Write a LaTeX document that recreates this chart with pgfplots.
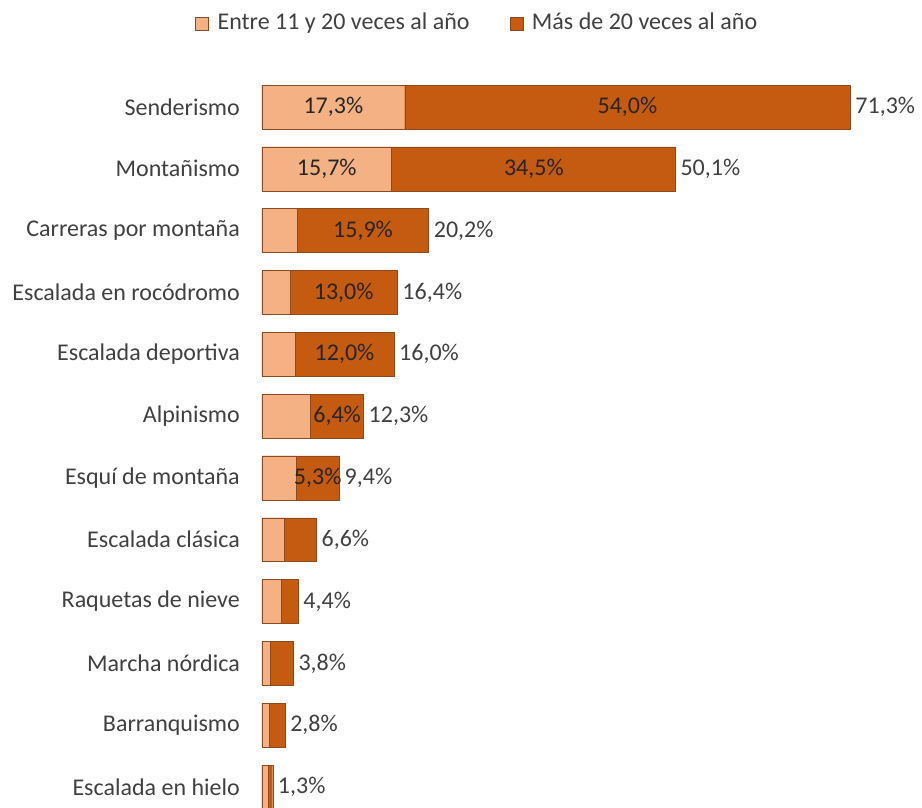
\documentclass[border=0pt]{standalone}
\usepackage{pgfplots}
\pgfplotsset{compat=1.18}
\usepackage{pgfplotstable}
\usepackage{fontspec}
\setmainfont{Carlito}
\definecolor{lightor}{HTML}{F4B183}
\definecolor{darkor}{HTML}{C55A11}
\definecolor{edgec}{HTML}{8C4A1E}
\definecolor{txt}{HTML}{404040}
\pgfplotstableread{
y light dark total
11 17.3 54.0 71.3
10 15.7 34.5 50.1
9 4.3 15.9 20.2
8 3.4 13.0 16.4
7 4.0 12.0 16.0
6 5.9 6.4 12.3
5 4.1 5.3 9.4
4 2.7 3.9 6.6
3 2.3 2.1 4.4
2 1.0 2.8 3.8
1 0.9 1.9 2.8
0 0.8 0.5 1.3
}\data
\newcommand{\fs}{\fontsize{24}{28}\selectfont}
\begin{document}
\fs
\begin{tikzpicture}
\useasboundingbox (0,0) rectangle (922pt,807pt);
\begin{axis}[
  at={(262pt,-10.9pt)}, anchor=south west,
  scale only axis, width=660pt, height=741.8pt,
  xmin=0, xmax=80, ymin=-0.5, ymax=11.5,
  clip=false,
  axis line style={draw=none}, tick style={draw=none},
  xtick=\empty,
  ytick={0,...,11},
  yticklabels={Escalada en hielo, Barranquismo, Marcha nórdica, Raquetas de nieve, Escalada clásica, Esquí de montaña, Alpinismo, Escalada deportiva, Escalada en rocódromo, Carreras por montaña, Montañismo, Senderismo},
  y tick label style={font=\fs, text=txt, xshift=-14pt},
  /pgf/number format/assume math mode=true,
  legend image code/.code={\draw[#1] (0pt,-6.5pt) rectangle (13pt,6.5pt);},
  legend style={at={(0.326,1.071)}, anchor=center, draw=none, legend columns=2,
    font=\fs, text=txt, inner sep=0pt,
    /tikz/every even column/.append style={column sep=38pt},
    /tikz/every odd column/.append style={column sep=7pt}},
  legend cell align=left,
]
\addlegendimage{fill=lightor, draw=edgec}
\addlegendentry{Entre 11 y 20 veces al año}
\addlegendimage{fill=darkor, draw=edgec}
\addlegendentry{Más de 20 veces al año}
\addplot[xbar, bar shift=0pt, bar width=0.71, fill=darkor, draw=edgec, forget plot] table[x=total,y=y]{\data};
\addplot[xbar, bar shift=0pt, bar width=0.71, fill=lightor, draw=edgec, forget plot] table[x=light,y=y]{\data};
% light labels
\addplot[draw=none, mark=none, forget plot, skip coords between index={2}{12},
  point meta=\thisrow{light},
  nodes near coords={\pgfmathprintnumber[fixed,fixed zerofill,precision=1,use comma]{\pgfplotspointmeta}\%},
  every node near coord/.append style={anchor=center, text=black!85, font=\fs}]
  table[x expr=\thisrow{light}/2, y=y]{\data};
% dark labels
\addplot[draw=none, mark=none, forget plot, skip coords between index={7}{12},
  point meta=\thisrow{dark},
  nodes near coords={\pgfmathprintnumber[fixed,fixed zerofill,precision=1,use comma]{\pgfplotspointmeta}\%},
  every node near coord/.append style={anchor=center, text=black!85, font=\fs}]
  table[x expr=\thisrow{light}+\thisrow{dark}/2, y=y]{\data};
% total labels
\addplot[draw=none, mark=none, forget plot,
  point meta=\thisrow{total},
  nodes near coords={\pgfmathprintnumber[fixed,fixed zerofill,precision=1,use comma]{\pgfplotspointmeta}\%},
  every node near coord/.append style={anchor=west, inner sep=1pt, xshift=4pt, text=txt, font=\fs}]
  table[x=total, y=y]{\data};
\end{axis}
\end{tikzpicture}
\end{document}
